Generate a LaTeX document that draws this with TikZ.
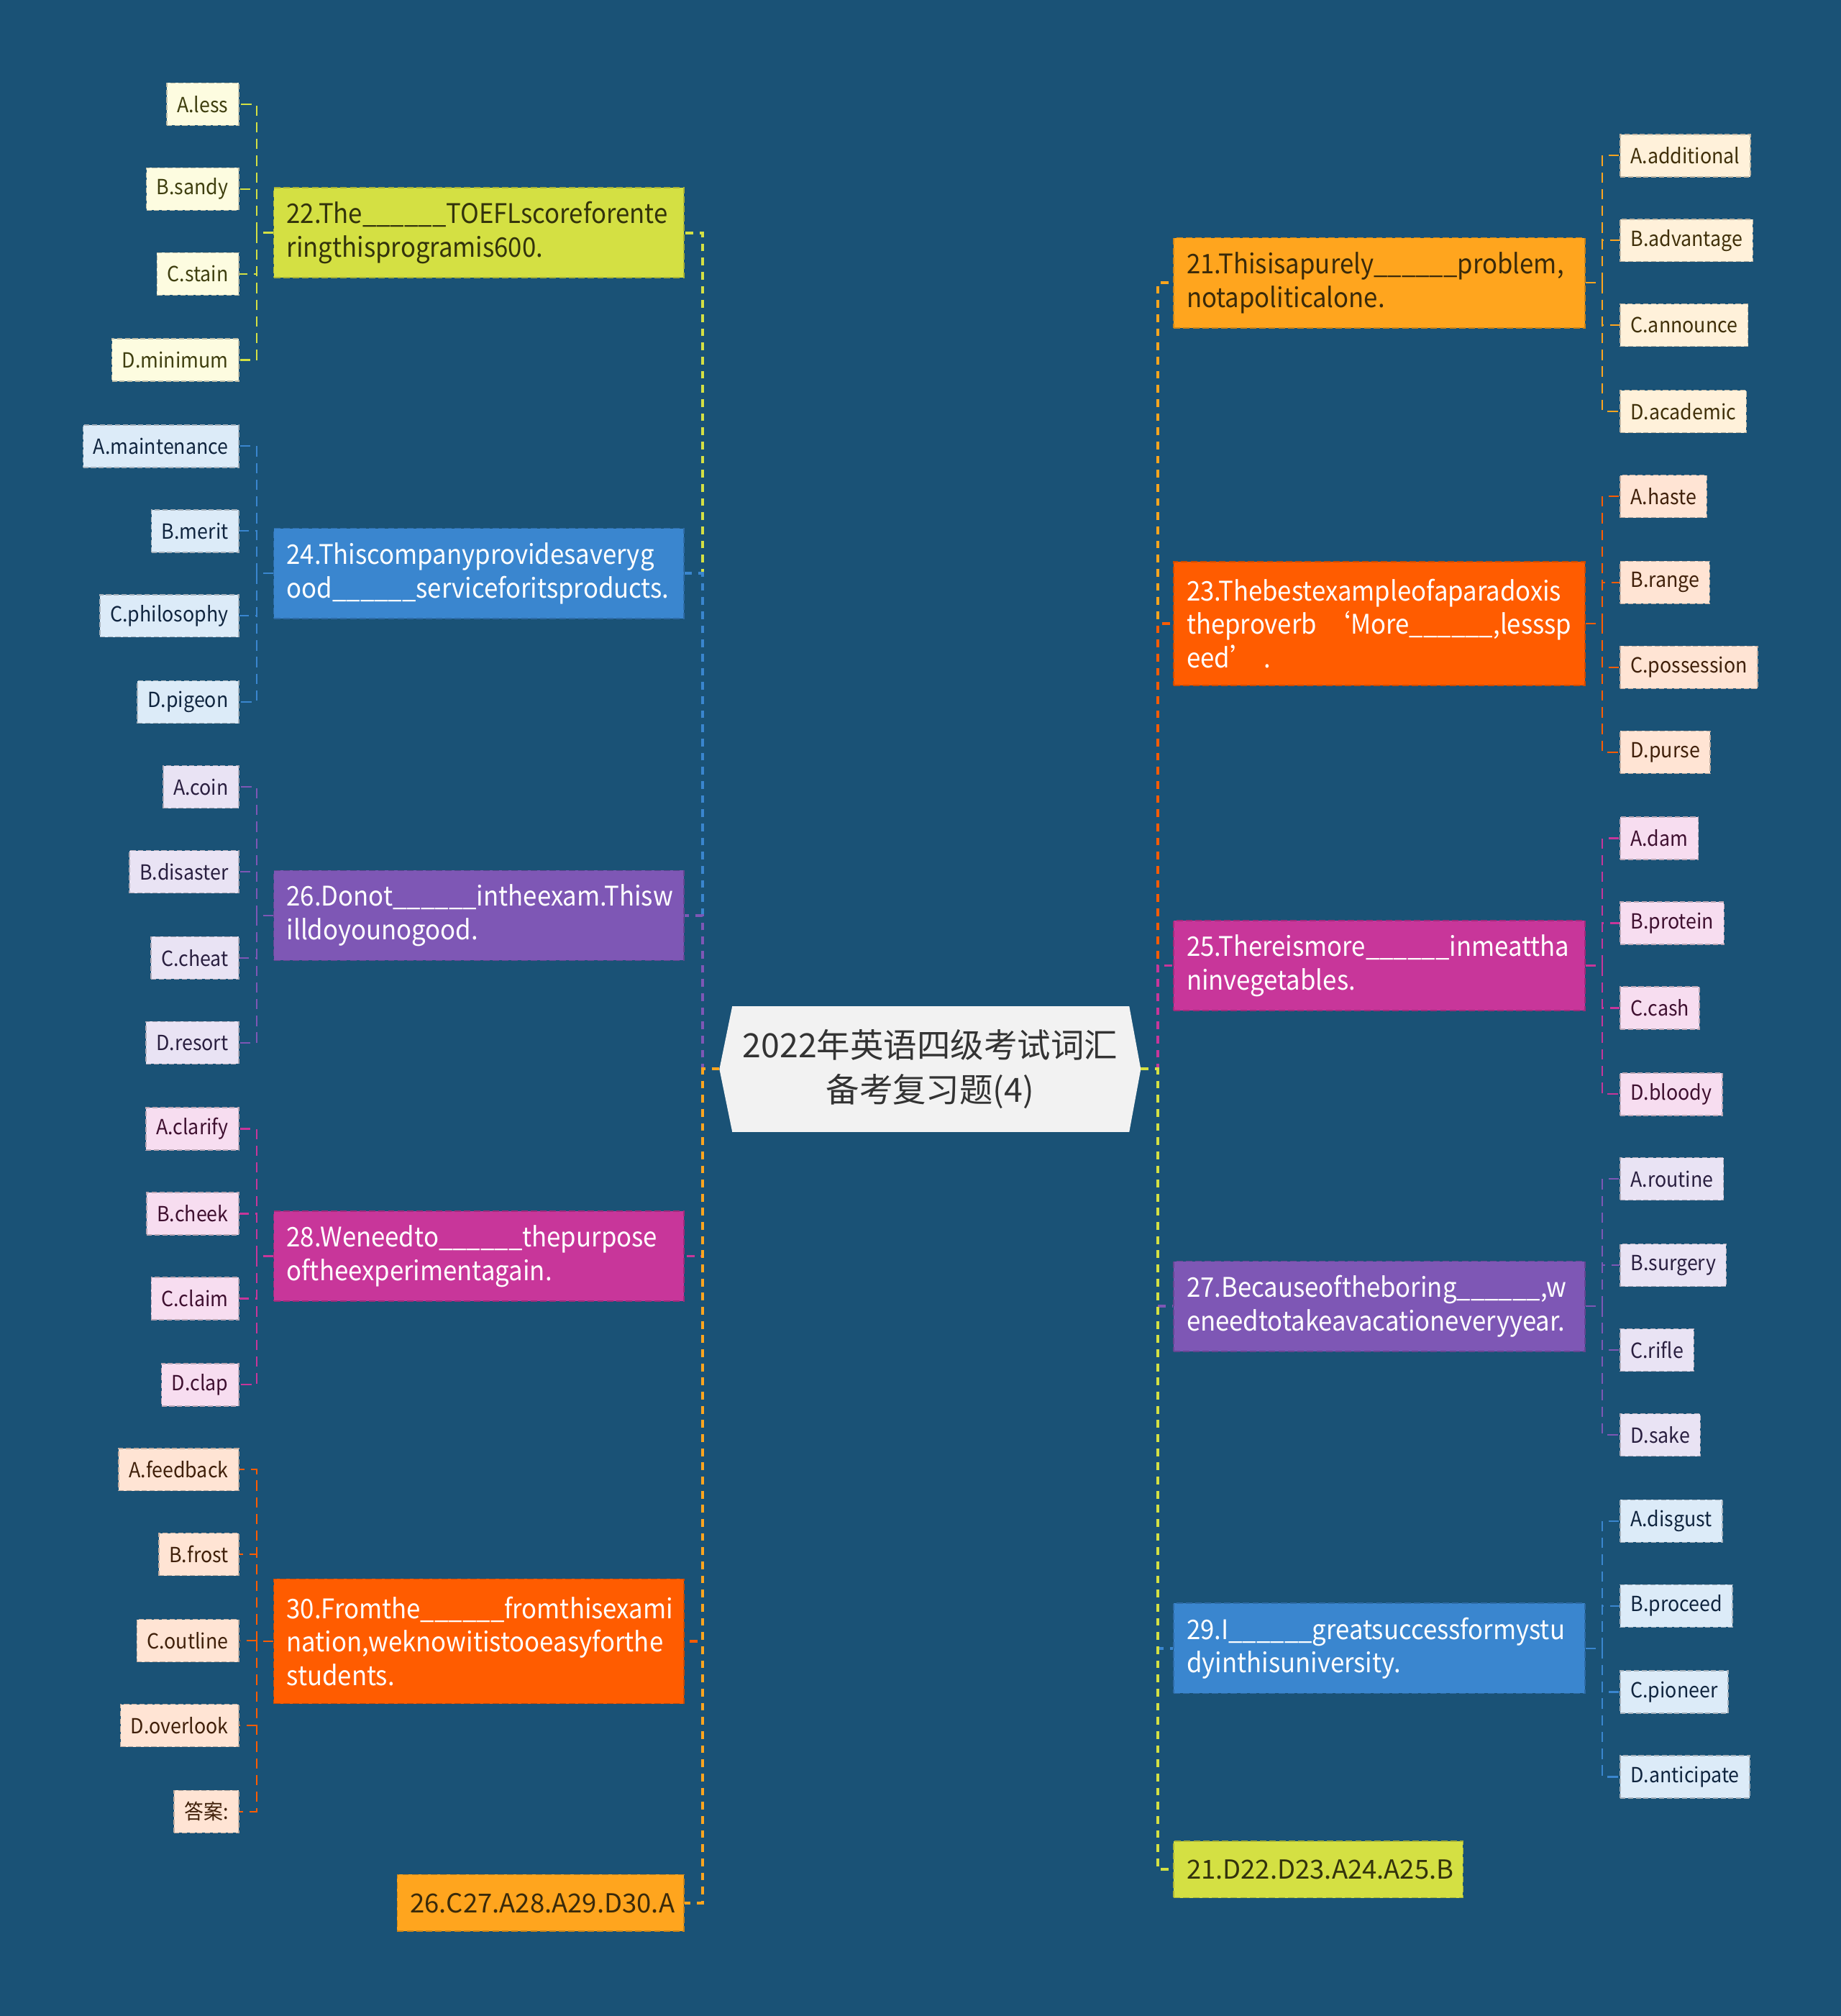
\documentclass[tikz,border=0pt]{standalone}
\usepackage{fontspec}
\setmainfont{Noto Sans CJK SC}
\newfontfamily\narrowfont[FakeStretch=0.925]{Noto Sans CJK SC}
\usetikzlibrary{calc}
\pgfdeclarelayer{bg}
\pgfsetlayers{bg,main}
\definecolor{bgc}{HTML}{1A5276}
\definecolor{cfill}{HTML}{F2F2F2}
\definecolor{ctext}{HTML}{333333}
\definecolor{cyg}{HTML}{D4E043}
\definecolor{cbl}{HTML}{3A86CF}
\definecolor{cpu}{HTML}{7E57B5}
\definecolor{cmg}{HTML}{C8369A}
\definecolor{cor}{HTML}{FF5C00}
\definecolor{cam}{HTML}{FFA51E}
\definecolor{tyg}{HTML}{33330C}
\definecolor{tam}{HTML}{3A2A0A}
\definecolor{lyg}{HTML}{FDFCE0}
\definecolor{lbl}{HTML}{DCEBF8}
\definecolor{lpu}{HTML}{E9E3F4}
\definecolor{lmg}{HTML}{F7DDF0}
\definecolor{lor}{HTML}{FFE4D4}
\definecolor{lam}{HTML}{FFF1DA}
\definecolor{kyg}{HTML}{3F3F0F}
\definecolor{kbl}{HTML}{10253F}
\definecolor{kpu}{HTML}{2A1F40}
\definecolor{kmg}{HTML}{3F1030}
\definecolor{kor}{HTML}{40200A}
\definecolor{kam}{HTML}{40300A}
\begin{document}
\begin{tikzpicture}[x=0.5pt,y=-0.5pt,
  mainbox/.style={rectangle, inner xsep=5pt, inner ysep=0pt, align=left,
    font=\narrowfont\fontsize{10.5}{13}\selectfont, minimum height=35pt,
    draw=#1!80!black, fill=#1, dash pattern=on 2.5pt off 1.2pt, line width=0.4pt},
  mainL/.style={mainbox=#1, minimum width=159.5pt, text width=149.5pt},
  mainR/.style={mainbox=#1, minimum width=160pt, text width=150pt},
  ansbox/.style={mainbox=#1, font=\fontsize{10.2}{13}\selectfont, minimum height=22pt},
  leaf/.style={rectangle, inner xsep=4pt, inner ysep=0pt, minimum height=16.5pt,
    font=\narrowfont\fontsize{8.1}{10}\selectfont, draw=#1!75!black, fill=#1,
    dash pattern=on 2pt off 1pt, line width=0.4pt},
  leafL/.style={leaf=#1, anchor=east},
  leafR/.style={leaf=#1, anchor=west},
  trunk/.style={draw=#1, line width=1.1pt, dash pattern=on 3pt off 2.5pt},
  twig/.style={draw=#1, line width=0.6pt, dash pattern=on 4pt off 2.5pt}]
\begin{pgfonlayer}{bg}
\fill[bgc] (0,0) rectangle (1432,1568);
\end{pgfonlayer}
\useasboundingbox (0,0) rectangle (1432,1568);

% centre
\node[rectangle, minimum width=163.5pt, minimum height=48.5pt, inner sep=0pt,
  align=center, text=ctext, font=\fontsize{13}{17.5}\selectfont] (c) at (723.5,831.5)
  {2022年英语四级考试词汇\\备考复习题(4)};
\begin{pgfonlayer}{bg}
\fill[cfill] (c.west) -- ($(c.north west)+(10,0)$) -- ($(c.north east)+(-9,0)$) -- (c.east)
  -- ($(c.south east)+(-9,0)$) -- ($(c.south west)+(10,0)$) -- cycle;
\end{pgfonlayer}

% left main nodes
\node[mainL=cyg, text=tyg] (n22) at (372.5,181) {22.The\_\_\_\_\_\_TOEFLscoreforente\\ringthisprogramis600.};
\node[mainL=cbl, text=white] (n24) at (372.5,446) {24.Thiscompanyprovidesaveryg\\ood\_\_\_\_\_\_serviceforitsproducts.};
\node[mainL=cpu, text=white] (n26) at (372.5,712) {26.Donot\_\_\_\_\_\_intheexam.Thisw\\illdoyounogood.};
\node[mainL=cmg, text=white] (n28) at (372.5,977) {28.Weneedto\_\_\_\_\_\_thepurpose\\oftheexperimentagain.};
\node[mainL=cor, text=white, minimum height=48.5pt] (n30) at (372.5,1276.5) {30.Fromthe\_\_\_\_\_\_fromthisexami\\nation,weknowitistooeasyforthe\\students.};
\node[ansbox=cam, text=tam, minimum width=111.5pt, text width=101.5pt] (aL) at (420.5,1480) {26.C27.A28.A29.D30.A};

% right main nodes
\node[mainR=cam, text=tam] (n21) at (1073,220) {21.Thisisapurely\_\_\_\_\_\_problem,\\notapoliticalone.};
\node[mainR=cor, text=white, minimum height=48pt] (n23) at (1073,485) {23.Thebestexampleofaparadoxis\\theproverb~‘More\_\_\_\_\_\_,lesssp\\eed’~.};
\node[mainR=cmg, text=white] (n25) at (1073,751) {25.Thereismore\_\_\_\_\_\_inmeattha\\ninvegetables.};
\node[mainR=cpu, text=white] (n27) at (1073,1016) {27.Becauseoftheboring\_\_\_\_\_\_,w\\eneedtotakeavacationeveryyear.};
\node[mainR=cbl, text=white] (n29) at (1073,1282) {29.I\_\_\_\_\_\_greatsuccessformystu\\dyinthisuniversity.};
\node[ansbox=cyg, text=tyg, minimum width=112.5pt, text width=102.5pt] (aR) at (1025.5,1454) {21.D22.D23.A24.A25.B};

% trunks left
\draw[trunk=cyg] (c.west) -- ++(-13,0) |- (n22.east);
\draw[trunk=cbl] (c.west) -- ++(-13,0) |- (n24.east);
\draw[trunk=cpu] (c.west) -- ++(-13,0) |- (n26.east);
\draw[trunk=cmg] (c.west) -- ++(-13,0) |- (n28.east);
\draw[trunk=cor] (c.west) -- ++(-13,0) |- (n30.east);
\draw[trunk=cam] (c.west) -- ++(-13,0) |- (aL.east);
% trunks right
\draw[trunk=cam] (c.east) -- ++(13,0) |- (n21.west);
\draw[trunk=cor] (c.east) -- ++(13,0) |- (n23.west);
\draw[trunk=cmg] (c.east) -- ++(13,0) |- (n25.west);
\draw[trunk=cpu] (c.east) -- ++(13,0) |- (n27.west);
\draw[trunk=cbl] (c.east) -- ++(13,0) |- (n29.west);
\draw[trunk=cyg] (c.east) -- ++(13,0) |- (aR.west);

% left leaves
\foreach \t/\y [count=\i] in {A.less/81,B.sandy/147,C.stain/213,D.minimum/280}{
  \node[leafL=lyg, text=kyg] (l22\i) at (186,\y) {\t};
  \draw[twig=cyg] (n22.west) -- ++(-13,0) |- (l22\i.east);}
\foreach \t/\y [count=\i] in {A.maintenance/347,B.merit/413,C.philosophy/479,D.pigeon/546}{
  \node[leafL=lbl, text=kbl] (l24\i) at (186,\y) {\t};
  \draw[twig=cbl] (n24.west) -- ++(-13,0) |- (l24\i.east);}
\foreach \t/\y [count=\i] in {A.coin/612,B.disaster/678,C.cheat/745,D.resort/811}{
  \node[leafL=lpu, text=kpu] (l26\i) at (186,\y) {\t};
  \draw[twig=cpu] (n26.west) -- ++(-13,0) |- (l26\i.east);}
\foreach \t/\y [count=\i] in {A.clarify/878,B.cheek/944,C.claim/1010,D.clap/1077}{
  \node[leafL=lmg, text=kmg] (l28\i) at (186,\y) {\t};
  \draw[twig=cmg] (n28.west) -- ++(-13,0) |- (l28\i.east);}
\foreach \t/\y [count=\i] in {A.feedback/1143,B.frost/1209,C.outline/1276,D.overlook/1342,答案:/1409}{
  \node[leafL=lor, text=kor] (l30\i) at (186,\y) {\t};
  \draw[twig=cor] (n30.west) -- ++(-13,0) |- (l30\i.east);}

% right leaves
\foreach \t/\y [count=\i] in {A.additional/121,B.advantage/187,C.announce/253,D.academic/320}{
  \node[leafR=lam, text=kam] (l21\i) at (1260,\y) {\t};
  \draw[twig=cam] (n21.east) -- ++(13,0) |- (l21\i.west);}
\foreach \t/\y [count=\i] in {A.haste/386,B.range/453,C.possession/519,D.purse/585}{
  \node[leafR=lor, text=kor] (l23\i) at (1260,\y) {\t};
  \draw[twig=cor] (n23.east) -- ++(13,0) |- (l23\i.west);}
\foreach \t/\y [count=\i] in {A.dam/652,B.protein/718,C.cash/784,D.bloody/851}{
  \node[leafR=lmg, text=kmg] (l25\i) at (1260,\y) {\t};
  \draw[twig=cmg] (n25.east) -- ++(13,0) |- (l25\i.west);}
\foreach \t/\y [count=\i] in {A.routine/917,B.surgery/984,C.rifle/1050,D.sake/1116}{
  \node[leafR=lpu, text=kpu] (l27\i) at (1260,\y) {\t};
  \draw[twig=cpu] (n27.east) -- ++(13,0) |- (l27\i.west);}
\foreach \t/\y [count=\i] in {A.disgust/1183,B.proceed/1249,C.pioneer/1316,D.anticipate/1382}{
  \node[leafR=lbl, text=kbl] (l29\i) at (1260,\y) {\t};
  \draw[twig=cbl] (n29.east) -- ++(13,0) |- (l29\i.west);}
\end{tikzpicture}
\end{document}
